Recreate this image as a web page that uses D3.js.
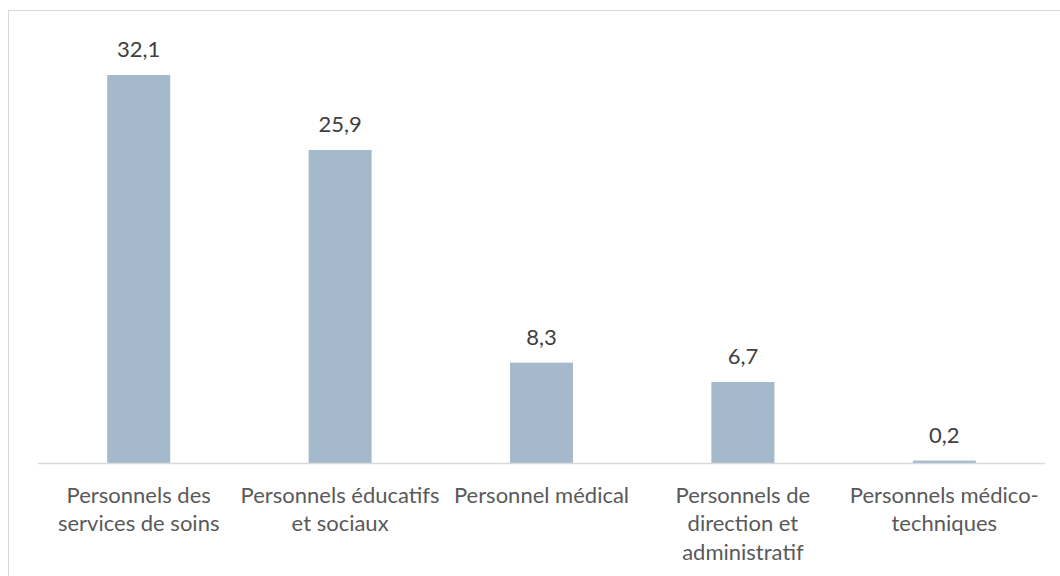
<!DOCTYPE html>
<html><head><meta charset="utf-8">
<script src="https://cdn.jsdelivr.net/npm/d3@7"></script>
<style>html,body{margin:0;padding:0;background:#fff;overflow:hidden}</style>
</head><body>
<svg id="chart" width="1060" height="576"></svg>
<script>
const categories = [
  ["Personnels des", "services de soins"],
  ["Personnels éducatifs", "et sociaux"],
  ["Personnel médical"],
  ["Personnels de", "direction et", "administratif"],
  ["Personnels médico-", "techniques"]
];
const values = [32.1, 25.9, 8.3, 6.7, 0.2];
const valueLabels = ["32,1", "25,9", "8,3", "6,7", "0,2"];

const svg = d3.select("#chart");
const font = "Lato, 'Open Sans', sans-serif";
svg.append("rect").attr("x", 8.5).attr("y", 10.5).attr("width", 1070).attr("height", 600)
  .attr("fill", "#fff").attr("stroke", "#d9d9d9").attr("stroke-width", 1);

const x = d3.scaleBand().domain(d3.range(values.length)).range([38, 1045]).paddingInner(0.687).paddingOuter(0.3435);
const y = d3.scaleLinear().domain([0, 32.1]).range([463, 75]);

svg.selectAll("rect.bar").data(values).enter().append("rect").attr("class", "bar")
  .attr("x", (d, i) => x(i)).attr("width", x.bandwidth())
  .attr("y", d => y(d)).attr("height", d => y(0) - y(d))
  .attr("fill", "#a5b9cc");

svg.append("line").attr("x1", 38).attr("x2", 1045).attr("y1", 463.5).attr("y2", 463.5)
  .attr("stroke", "#d9d9d9").attr("stroke-width", 1.3);

svg.selectAll("text.val").data(values).enter().append("text").attr("class", "val")
  .attr("x", (d, i) => x(i) + x.bandwidth() / 2).attr("y", d => y(d) - 18)
  .attr("text-anchor", "middle").attr("font-family", font).attr("font-size", 22)
  .attr("fill", "#404040").text((d, i) => valueLabels[i]);

const lab = svg.selectAll("text.cat").data(categories).enter().append("text").attr("class", "cat")
  .attr("text-anchor", "middle").attr("font-family", font).attr("font-size", 22).attr("fill", "#595959");
lab.each(function(lines, i) {
  const t = d3.select(this);
  lines.forEach((l, j) => {
    t.append("tspan").attr("x", x(i) + x.bandwidth() / 2).attr("y", 503 + j * 28.3).text(l);
  });
});
</script>
</body></html>
